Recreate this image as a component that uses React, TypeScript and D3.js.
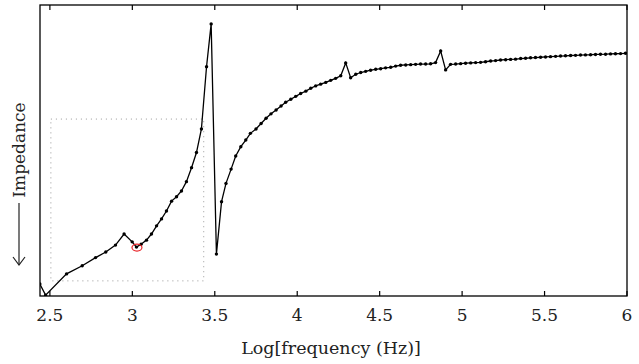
import React from "react";
import * as d3 from "d3";

const logFreq = [
  2.439, 2.474, 2.601, 2.696, 2.777, 2.839, 2.898, 2.95, 2.999, 3.025,
  3.053, 3.086, 3.116, 3.147, 3.177, 3.207, 3.238, 3.268, 3.298, 3.328,
  3.359, 3.389, 3.419, 3.45, 3.478, 3.51, 3.541, 3.568, 3.599, 3.627,
  3.658, 3.688, 3.716, 3.75, 3.781, 3.811, 3.841, 3.872, 3.902, 3.93,
  3.961, 3.991, 4.021, 4.052, 4.082, 4.112, 4.142, 4.173, 4.203, 4.233,
  4.264, 4.294, 4.324, 4.355, 4.385, 4.415, 4.445, 4.476, 4.506, 4.536,
  4.567, 4.597, 4.627, 4.658, 4.688, 4.718, 4.748, 4.779, 4.809, 4.839,
  4.87, 4.9, 4.93, 4.961, 4.991, 5.021, 5.052, 5.082, 5.112, 5.142,
  5.173, 5.203, 5.233, 5.264, 5.294, 5.324, 5.355, 5.385, 5.415, 5.445,
  5.476, 5.506, 5.536, 5.567, 5.597, 5.627, 5.658, 5.688, 5.718, 5.748,
  5.779, 5.809, 5.839, 5.87, 5.9, 5.93, 5.961, 5.991,
];

const impedance = [
  4.1, 0.3, 7.6, 10.4, 13.2, 15.1, 17.5, 21.3, 18.6, 16.8,
  17.8, 19.2, 21.3, 24.1, 26.5, 29.2, 32.6, 34.1, 36.1, 39.3,
  44.1, 49.3, 57.4, 78.8, 93.5, 14.4, 32.4, 38.7, 43.6, 48.1,
  51.3, 53.6, 55.9, 57.4, 59.3, 61.1, 62.6, 63.9, 65.3, 66.6,
  67.6, 68.6, 69.6, 70.4, 71.4, 72.2, 72.8, 73.4, 74.1, 74.8,
  75.7, 80.1, 75.0, 76.2, 76.8, 77.2, 77.6, 77.9, 78.1, 78.4,
  78.6, 79.0, 79.3, 79.4, 79.5, 79.6, 79.7, 79.7, 79.8, 80.2,
  84.2, 77.7, 79.6, 79.7, 79.85, 80.0, 80.1, 80.2, 80.3, 80.5,
  80.75, 80.9, 81.1, 81.2, 81.3, 81.4, 81.6, 81.7, 81.85, 81.95,
  82.05, 82.15, 82.25, 82.35, 82.45, 82.55, 82.65, 82.7, 82.8, 82.85,
  82.9, 83.0, 83.05, 83.1, 83.2, 83.25, 83.3, 83.4,
];

const xTicks = [2.5, 3, 3.5, 4, 4.5, 5, 5.5, 6];
const xDomain = [2.44, 6];
const yDomain = [0, 100];
const zoomBox = { x0: 2.506, x1: 3.433, y0: 5.2, y1: 60.8 };
const markedIndex = 9;

const W = 639;
const H = 364;
const M = { left: 40, right: 12, top: 5, bottom: 68 };

export default function App() {
  const x = d3.scaleLinear().domain(xDomain).range([M.left, W - M.right]);
  const y = d3.scaleLinear().domain(yDomain).range([H - M.bottom, M.top]);
  const pts = logFreq.map((f, i) => [f, impedance[i]] as [number, number]);
  const line = d3
    .line<[number, number]>()
    .x((d) => x(d[0]))
    .y((d) => y(d[1]));
  const ff = "DejaVu Serif";
  const x0 = M.left;
  const x1 = W - M.right;
  const y0 = M.top;
  const y1 = H - M.bottom;
  const mk = pts[markedIndex];
  return (
    <svg
      width={W}
      height={H}
      style={{ position: "absolute", left: 0, top: 0, background: "#fff" }}
    >
      <defs>
        <clipPath id="plotclip">
          <rect x={x0} y={y0} width={x1 - x0} height={y1 - y0} />
        </clipPath>
      </defs>
      <rect
        x={x(zoomBox.x0)}
        y={y(zoomBox.y1)}
        width={x(zoomBox.x1) - x(zoomBox.x0)}
        height={y(zoomBox.y0) - y(zoomBox.y1)}
        fill="none"
        stroke="#999"
        strokeWidth={1}
        strokeDasharray="1,4"
      />
      <g clipPath="url(#plotclip)">
        <path d={line(pts) || ""} fill="none" stroke="#000" strokeWidth={1.3} />
        {pts.map((d, i) => (
          <circle key={i} cx={x(d[0])} cy={y(d[1])} r={1.7} fill="#000" />
        ))}
      </g>
      <ellipse
        cx={x(mk[0]) + 0.5}
        cy={y(mk[1]) + 0.5}
        rx={5}
        ry={3.5}
        fill="none"
        stroke="#e8262a"
        strokeWidth={1.2}
      />
      <rect
        x={x0}
        y={y0}
        width={x1 - x0}
        height={y1 - y0}
        fill="none"
        stroke="#000"
        strokeWidth={1.3}
      />
      {xTicks.map((t) => (
        <g key={t}>
          <line x1={x(t)} x2={x(t)} y1={y1} y2={y1 - 5} stroke="#000" strokeWidth={1.2} />
          <line x1={x(t)} x2={x(t)} y1={y0} y2={y0 + 5} stroke="#000" strokeWidth={1.2} />
          <text
            x={x(t)}
            y={y1 + 25}
            textAnchor="middle"
            fontFamily={ff}
            fontSize={17}
            fill="#222"
          >
            {String(t)}
          </text>
        </g>
      ))}
      <text
        x={331}
        y={354}
        textAnchor="middle"
        fontFamily={ff}
        fontSize={17.5}
        fill="#222"
      >
        Log[frequency (Hz)]
      </text>
      <g transform="translate(25,150) rotate(-90)">
        <text x={0} y={0} textAnchor="middle" fontFamily={ff} fontSize={17} fill="#222">
          Impedance
        </text>
      </g>
      <line x1={19} x2={19} y1={203} y2={265} stroke="#222" strokeWidth={1.2} />
      <path d="M13,257 L19,265 L25,257" fill="none" stroke="#222" strokeWidth={1.2} />
    </svg>
  );
}
